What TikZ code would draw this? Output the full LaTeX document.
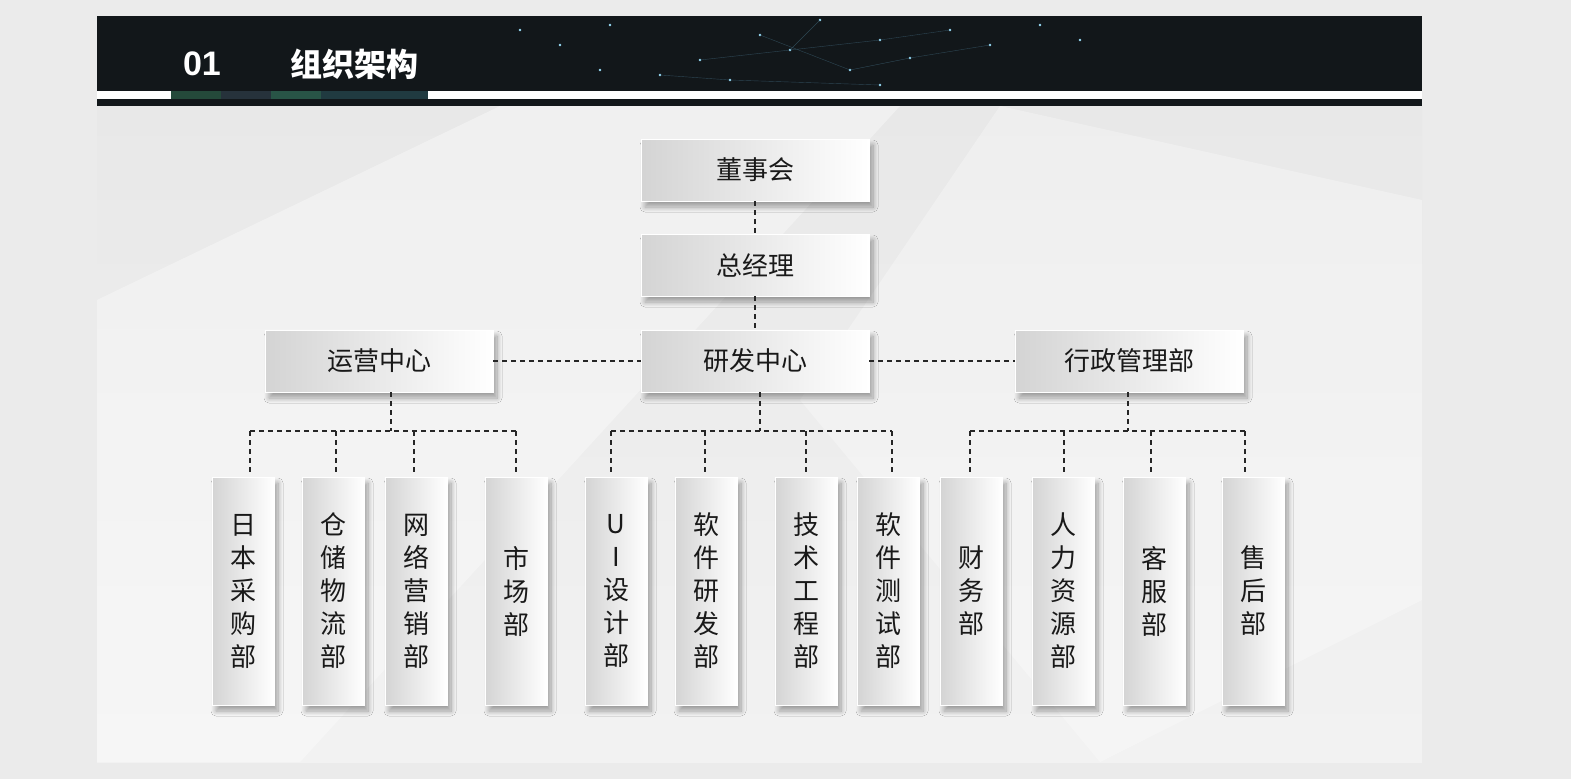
\documentclass[tikz,border=0pt]{standalone}
\usepackage{fontspec}
\setmainfont{Liberation Sans}
\newfontfamily\cjk{Noto Sans CJK SC}
\usetikzlibrary{shadows.blur}
\definecolor{hdr}{HTML}{12171A}
\definecolor{sa}{HTML}{24493A}
\definecolor{sb}{HTML}{26323B}
\definecolor{sc}{HTML}{285446}
\definecolor{sd}{HTML}{203A40}
\begin{document}
\begin{tikzpicture}[x=1pt,y=-1pt,
  box/.style={draw=white,line width=0.8pt,left color=black!17,right color=white,blur shadow={shadow blur steps=10,shadow blur radius=5pt,shadow blur extra rounding=0pt,shadow xshift=4pt,shadow yshift=-6pt,shadow opacity=35},font=\cjk\fontsize{26}{28}\selectfont,text=black!90,inner sep=0pt},
  hbox/.style={box,minimum width=228pt,minimum height=62pt},
  vbox/.style={box,minimum width=62pt,minimum height=228pt,align=center,font=\cjk\fontsize{26}{33}\selectfont},
  conn/.style={line width=1.2pt,black!85,dash pattern=on 5pt off 4pt}]
\useasboundingbox (0,0) rectangle (1571,779);
\fill[black!8] (0,0) rectangle (1571,779);
\shade[top color=black!9,bottom color=black!5] (97,106) rectangle (1422,762);
\fill[white,opacity=0.35] (97,300) -- (500,106) -- (900,106) -- (300,762) -- (97,762) -- cycle;
\fill[white,opacity=0.3] (1000,106) -- (1422,200) -- (1422,600) -- (1100,762) -- (800,400) -- cycle;
\fill[hdr] (97,16) rectangle (1422,106);
\fill[white] (97,91) rectangle (1422,99);
\fill[sa] (171,91) rectangle (221,99);
\fill[sb] (221,91) rectangle (271,99);
\fill[sc] (271,91) rectangle (321,99);
\fill[sd] (321,91) rectangle (428,99);
\foreach \x/\y in {520/30,560/45,610/25,700/60,760/35,790/50,820/20,850/70,880/40,910/58,950/30,990/45,1040/25,1080/40,660/75,730/80,880/85,600/70}
  \fill[cyan!40!white] (\x,\y) circle (1.3pt);
\draw[cyan!50!black,opacity=0.5,line width=0.4pt] (700,60)--(790,50)--(880,40)--(950,30) (760,35)--(850,70)--(910,58)--(990,45) (790,50)--(820,20) (660,75)--(730,80)--(880,85);
\node[white,font=\bfseries\fontsize{34}{36}\selectfont] (num) at (202,64) {01};
\node[white,font=\cjk\bfseries\fontsize{32}{34}\selectfont] (ttl) at (354,64) {组织架构};
\node[hbox] (dsh) at (755,170) {董事会};
\node[hbox] (zjl) at (755,265) {总经理};
\node[hbox] (yf) at (755,361) {研发中心};
\node[hbox] (yy) at (379,361) {运营中心};
\node[hbox] (xz) at (1129,361) {行政管理部};
\foreach \n/\x/\t in {a/243/日\\本\\采\\购\\部, b/333/仓\\储\\物\\流\\部, c/416/网\\络\\营\\销\\部, d/516/市\\场\\部, e/616/U\\I\\设\\计\\部, f/706/软\\件\\研\\发\\部, g/806/技\\术\\工\\程\\部, h/888/软\\件\\测\\试\\部, i/971/财\\务\\部, j/1063/人\\力\\资\\源\\部, k/1154/客\\服\\部, l/1253/售\\后\\部}
  \node[vbox] (\n) at (\x,591) {\t};
\draw[conn] (dsh.south) -- (zjl.north);
\draw[conn] (zjl.south) -- (yf.north);
\draw[conn] (yy.east) -- (yf.west);
\draw[conn] (yf.east) -- (xz.west);
\coordinate (yyj) at (391,431);
\coordinate (yfj) at (760,431);
\coordinate (xzj) at (1128,431);
\draw[conn] (yy.south -| yyj) -- (yyj);
\draw[conn] (yf.south -| yfj) -- (yfj);
\draw[conn] (xz.south -| xzj) -- (xzj);
\draw[conn] (250,431) -- (516,431);
\draw[conn] (611,431) -- (892,431);
\draw[conn] (970,431) -- (1245,431);
\foreach \n/\x in {a/250,b/336,c/414,d/516,e/611,f/705,g/806,h/892,i/970,j/1064,k/1151,l/1245}
  \draw[conn] (\x,431) -- (\x,472);
\end{tikzpicture}
\end{document}
